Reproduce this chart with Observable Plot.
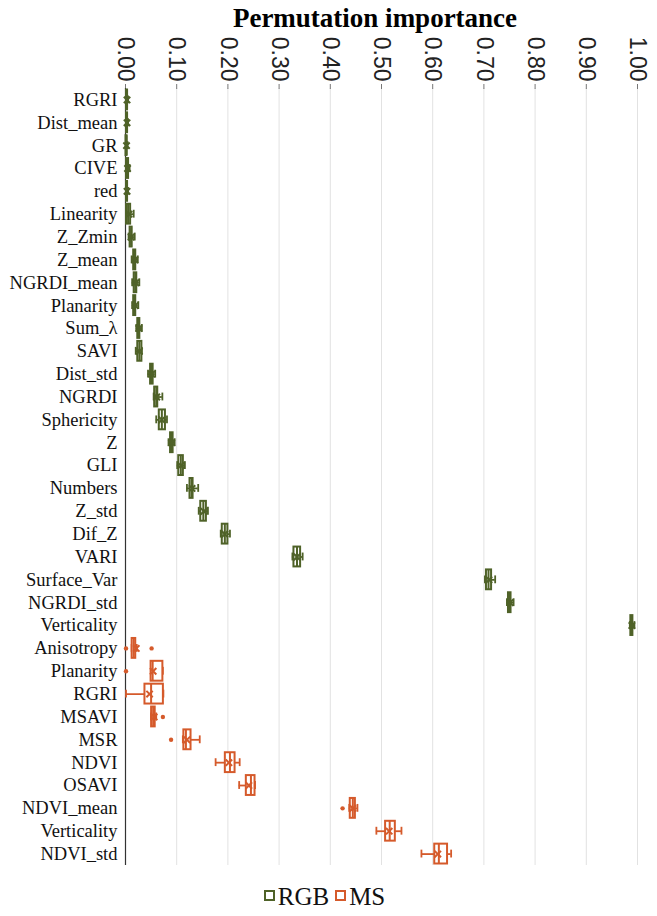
<!DOCTYPE html>
<html><head><meta charset="utf-8">
<script src="https://cdn.jsdelivr.net/npm/d3@7"></script>
<script src="https://cdn.jsdelivr.net/npm/@observablehq/plot@0.6"></script>
<style>
body{margin:0;background:#fff;}
#wrap{position:relative;width:657px;height:916px;overflow:hidden;}
#title{position:absolute;top:3px;left:110px;width:530px;text-align:center;font-family:"Liberation Serif",serif;font-weight:bold;font-size:27px;color:#000;}
#chart{position:absolute;top:0;left:0;}
#legend{position:absolute;top:883px;left:-4px;width:657px;text-align:center;font-family:"Liberation Serif",serif;font-size:25px;color:#111;}
#legend .sw{display:inline-block;width:7px;height:7px;border:2px solid;margin:0 3px 0 0;vertical-align:4px;}
</style></head>
<body><div id="wrap"><div id="chart"></div><div id="title">Permutation importance</div>
<div id="legend"><span class="sw" style="border-color:#4f6228"></span>RGB<span class="sw" style="border-color:#d55a2b;margin-left:6px"></span>MS</div></div>
<script>
const xTicks = [0,0.1,0.2,0.3,0.4,0.5,0.6,0.7,0.8,0.9,1.0];
const groups = ["RGB","MS"];
const groupColors = ["#4f6228","#d55a2b"];

const rgbNames = ["RGRI","Dist_mean","GR","CIVE","red","Linearity","Z_Zmin","Z_mean","NGRDI_mean","Planarity","Sum_λ","SAVI","Dist_std","NGRDI","Sphericity","Z","GLI","Numbers","Z_std","Dif_Z","VARI","Surface_Var","NGRDI_std","Verticality"];
const rgbLo   = [0.001,0.001,0.001,0.001,0.001,0.001,0.006,0.012,0.013,0.013,0.021,0.020,0.044,0.055,0.060,0.084,0.101,0.120,0.143,0.186,0.326,0.702,0.745,0.985];
const rgbQ1   = [0.002,0.002,0.001,0.002,0.002,0.002,0.009,0.016,0.017,0.016,0.024,0.024,0.049,0.057,0.066,0.088,0.104,0.126,0.147,0.189,0.329,0.705,0.748,0.987];
const rgbMed  = [0.003,0.003,0.002,0.004,0.003,0.005,0.011,0.018,0.019,0.018,0.026,0.027,0.051,0.060,0.071,0.090,0.108,0.129,0.152,0.194,0.335,0.709,0.750,0.989];
const rgbQ3   = [0.004,0.004,0.003,0.006,0.004,0.010,0.013,0.020,0.022,0.020,0.028,0.032,0.054,0.063,0.078,0.093,0.113,0.132,0.158,0.200,0.342,0.715,0.753,0.991];
const rgbHi   = [0.005,0.005,0.004,0.008,0.005,0.016,0.018,0.024,0.027,0.025,0.032,0.032,0.058,0.072,0.081,0.096,0.116,0.142,0.161,0.204,0.346,0.722,0.758,0.994];
const rgbMean = [0.003,0.003,0.002,0.004,0.003,0.007,0.011,0.018,0.020,0.019,0.026,0.027,0.051,0.061,0.071,0.090,0.108,0.130,0.153,0.194,0.335,0.710,0.751,0.989];

const msNames = ["Anisotropy","Planarity","RGRI","MSAVI","MSR","NDVI","OSAVI","NDVI_mean","Verticality","NDVI_std"];
const msLo    = [0.012,0.050,0.001,0.050,0.112,0.176,0.222,0.437,0.490,0.578];
const msQ1    = [0.013,0.050,0.038,0.051,0.114,0.195,0.236,0.439,0.508,0.604];
const msMed   = [0.016,0.053,0.050,0.054,0.118,0.204,0.245,0.444,0.516,0.612];
const msQ3    = [0.020,0.073,0.074,0.058,0.128,0.214,0.253,0.449,0.527,0.629];
const msHi    = [0.022,0.073,0.074,0.060,0.145,0.223,0.253,0.453,0.539,0.636];
const msMean  = [0.021,0.054,0.047,0.056,0.120,0.202,0.241,0.444,0.515,0.610];
const msOutlierNames  = ["Anisotropy","Anisotropy","Planarity","MSAVI","MSR","NDVI_mean"];
const msOutlierValues = [0.001,0.051,0.001,0.073,0.089,0.424];

const rows = [];
rgbNames.forEach((n,i)=>rows.push({key:"RGB|"+n, group:"RGB", lo:rgbLo[i], q1:rgbQ1[i], med:rgbMed[i], q3:rgbQ3[i], hi:rgbHi[i], mean:rgbMean[i]}));
msNames.forEach((n,i)=>rows.push({key:"MS|"+n, group:"MS", lo:msLo[i], q1:msQ1[i], med:msMed[i], q3:msQ3[i], hi:msHi[i], mean:msMean[i]}));
const outliers = msOutlierNames.map((n,i)=>({key:"MS|"+n, group:"MS", v:msOutlierValues[i]}));
const keys = rows.map(d=>d.key);

const chart = Plot.plot({
  width: 657, height: 870,
  marginTop: 88, marginBottom: 5, marginLeft: 125, marginRight: 20,
  style: {fontFamily: "'Liberation Serif', serif", background: "#fff"},
  x: {domain: [0,1], axis: null},
  y: {domain: keys, padding: 0, round: false, axis: null},
  color: {domain: groups, range: groupColors},
  marks: [
    Plot.gridX(xTicks, {stroke: "#e2e2e2", strokeOpacity: 1}),
    Plot.axisX(xTicks, {anchor: "top", label: null, tickFormat: d3.format(".2f"), tickRotate: 90, tickSize: 5, tickPadding: 2, fontSize: 23, fontFamily: "'Liberation Sans', sans-serif", fill: "#222", stroke: "#777"}),
    Plot.ruleY([0], {frameAnchor: "top", stroke: "#777"}),
    Plot.axisY(keys, {label: null, tickFormat: d => d.split("|")[1], tickSize: 0, tickPadding: 8, fontSize: 18.5, fill: "#111"}),
    Plot.ruleX([0], {stroke: "#333", strokeWidth: 1.2}),
    Plot.ruleY(rows, {y: "key", x1: "lo", x2: "hi", stroke: "group", strokeWidth: 1.8}),
    Plot.tickX(rows, {y: "key", x: "lo", stroke: "group", strokeWidth: 1.8, insetTop: 7.5, insetBottom: 7.5}),
    Plot.tickX(rows, {y: "key", x: "hi", stroke: "group", strokeWidth: 1.8, insetTop: 7.5, insetBottom: 7.5}),
    Plot.barX(rows, {y: "key", x1: "q1", x2: "q3", fill: "white", stroke: "group", strokeWidth: 2, insetTop: 1.5, insetBottom: 1.5}),
    Plot.tickX(rows, {y: "key", x: "med", stroke: "group", strokeWidth: 2, insetTop: 1.5, insetBottom: 1.5}),
    Plot.dot(rows, {y: "key", x: "mean", symbol: "times", r: 3, stroke: "group", strokeWidth: 2}),
    Plot.dot(outliers, {y: "key", x: "v", r: 2.2, fill: "group", stroke: "none"})
  ]
});
document.getElementById("chart").appendChild(chart);
</script></body></html>
